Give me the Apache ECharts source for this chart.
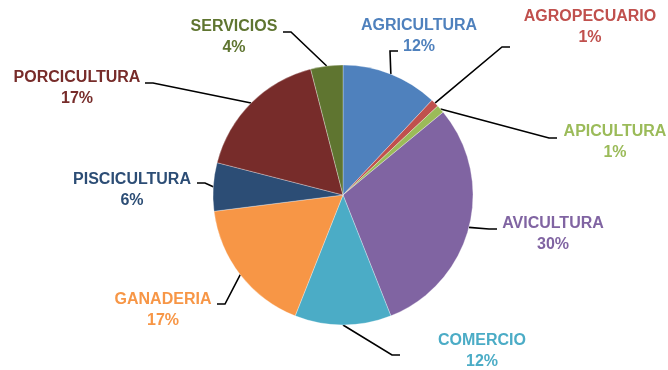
<!DOCTYPE html>
<html>
<head>
<meta charset="utf-8">
<script src="https://cdn.jsdelivr.net/npm/echarts@6/dist/echarts.min.js"></script>
<style>
  html, body { margin: 0; padding: 0; background: #ffffff; }
  #chart { width: 668px; height: 370px; }
</style>
</head>
<body>
<div id="chart"></div>
<script>
// Share of projects by sector (percent)
const categories = ['AGRICULTURA', 'AGROPECUARIO', 'APICULTURA', 'AVICULTURA', 'COMERCIO',
                    'GANADERIA', 'PISCICULTURA', 'PORCICULTURA', 'SERVICIOS'];
const shares = [12, 1, 1, 30, 12, 17, 6, 17, 4];

const sliceColors = ['#4F81BD', '#C0504D', '#9BBB59', '#8064A2', '#4BACC6',
                     '#F79646', '#2C4D75', '#772C2A', '#5F7530'];

// Layout: centre of each label block, and where its leader line meets it
const labelCentres = [[419, 36], [590, 27], [615, 142], [553, 234], [482, 351],
                      [163, 310], [132, 190], [77, 88], [234, 37]];
const leaderEnds = [[398, 51], [510, 47], [557, 138], [497, 229], [400, 355],
                    [217, 304], [197, 183], [145, 83], [283, 32]];

const chart = echarts.init(document.getElementById('chart'), null, { renderer: 'canvas' });

chart.setOption({
  animation: false,
  color: sliceColors,
  series: [{
    type: 'pie',
    center: [343, 195],
    radius: 130,
    startAngle: 90,
    clockwise: true,
    avoidLabelOverlap: false,
    percentPrecision: 0,
    data: categories.map((name, i) => ({
      name: name,
      value: shares[i],
      label: { color: sliceColors[i] }
    })),
    itemStyle: { borderWidth: 0.6, borderColor: 'rgba(255,255,255,0.5)' },
    label: {
      show: true,
      position: 'outside',
      formatter: '{b}\n{d}%',
      fontFamily: '"Liberation Sans", Arial, sans-serif',
      fontWeight: 'bold',
      fontSize: 16,
      lineHeight: 21
    },
    labelLine: {
      show: true,
      smooth: false,
      lineStyle: { color: '#000000', width: 1.6 }
    },
    emphasis: { disabled: true },
    // Place each label and run its leader from the slice edge (mid-angle)
    // to a short horizontal stub next to the label
    labelLayout: function (p) {
      const c = labelCentres[p.dataIndex];
      const e = leaderEnds[p.dataIndex];
      const dir = c[0] > e[0] ? 1 : -1;
      const start = p.labelLinePoints ? p.labelLinePoints[0] : e;
      return {
        x: c[0],
        y: c[1],
        align: 'center',
        verticalAlign: 'middle',
        labelLinePoints: [start, [e[0] - dir * 8, e[1]], [e[0], e[1]]]
      };
    }
  }]
});
</script>
</body>
</html>
